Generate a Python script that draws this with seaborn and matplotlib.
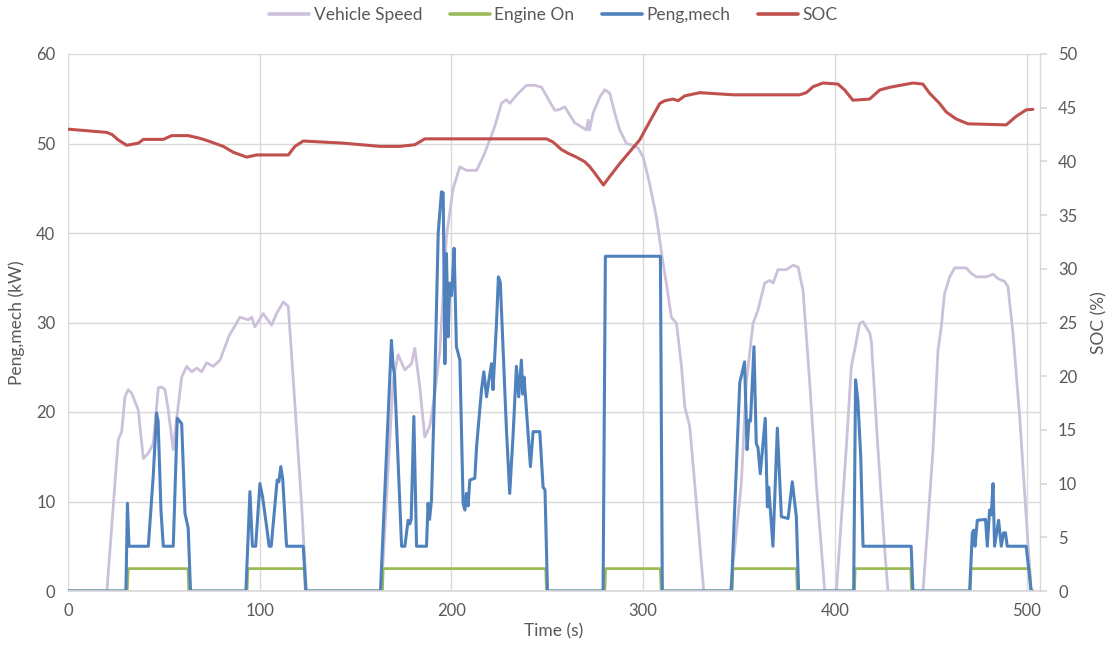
import matplotlib
matplotlib.use("Agg")
import matplotlib.pyplot as plt
import seaborn as sns
import pandas as pd

# ---------------- data ----------------
speed_t = [0, 20.3, 26.2, 28.0, 29.7, 31.4, 33.2, 36.7, 37.5, 39.3, 41.9, 44.5, 47.1, 48.8, 50.6,
           52.3, 54.9, 56.7, 59.3, 61.9, 64.5, 67.1, 69.7, 72.3, 75.8, 79.3, 84.0, 89.7, 94.0, 95.8,
           97.5, 101.8, 106.2, 108.8, 112.3, 114.9, 117.5, 121.8, 124.4, 163.5, 166.0, 169.6, 172.2,
           175.7, 179.2, 180.9, 183.5, 186.1, 188.7, 191.0, 194.0, 197.4, 200.9, 204.4, 207.9, 213.1,
           216.5, 220.0, 222.6, 226.1, 228.7, 230.4, 234.8, 239.1, 243.5, 247.0, 250.4, 253.9, 256.5,
           259.1, 261.7, 264.3, 267.5, 270.4, 271.3, 272.0, 273.9, 277.4, 280.0, 282.6, 285.2, 287.8,
           291.3, 294.7, 297.3, 300.0, 303.4, 306.9, 310.4, 312.1, 314.7, 317.4, 320.0, 321.7, 324.3,
           326.9, 329.5, 331.6, 345.5, 351.2, 353.8, 357.3, 359.9, 363.4, 366.0, 367.8, 370.3, 374.7,
           378.2, 380.8, 383.4, 386.9, 390.3, 394.7, 400.8, 405.9, 408.6, 410.3, 412.9, 414.7, 418.2,
           419.0, 422.5, 426.0, 427.7, 446.0, 451.2, 453.8, 455.5, 457.2, 459.9, 462.5, 465.0, 468.5,
           471.1, 473.8, 479.0, 482.5, 485.1, 488.5, 490.3, 492.9, 496.4, 499.8, 502.4, 503.3]
speed = [0, 0, 16.9, 17.8, 21.7, 22.5, 22.1, 20.2, 18.4, 14.8, 15.4, 16.5, 22.7, 22.8, 22.5,
         20.2, 15.8, 19.3, 23.9, 25.1, 24.5, 24.9, 24.5, 25.5, 25.1, 25.8, 28.5, 30.6, 30.3, 30.6,
         29.5, 31.0, 29.7, 31.0, 32.3, 31.8, 23.6, 9.8, 0, 0, 9.8, 23.6, 26.4,
         24.7, 25.4, 27.1, 22.8, 17.2, 18.4, 21.5, 26.9, 39.6, 45.0, 47.4, 47.0, 47.0,
         48.5, 50.4, 51.9, 54.5, 54.9, 54.5, 55.6, 56.5, 56.5, 56.3, 55.0, 53.7, 53.8,
         54.1, 53.2, 52.3, 51.9, 51.5, 52.6, 51.5, 53.4, 55.2, 56.0, 55.6, 53.4, 51.5,
         50.0, 49.8, 49.5, 48.5, 45.5, 41.8, 36.6, 34.4, 30.6, 29.9, 25.1, 20.6, 18.4,
         12.0, 5.3, 0, 0, 12.0, 23.2, 29.9, 31.4, 34.4, 34.7, 34.4, 35.9, 35.9,
         36.4, 36.2, 33.6, 23.2, 12.0, 0, 0, 15.8, 25.1, 26.9, 29.9, 30.1, 28.8,
         28.0, 15.8, 4.6, 0, 0, 15.8, 26.9, 29.5, 33.2, 35.1, 36.1, 36.1, 36.1,
         35.5, 35.1, 35.1, 35.4, 34.9, 34.6, 34.0, 28.8, 19.5, 8.3, 0, 0]

engine_t = [0, 30.9, 31.4, 62.6, 63.0, 93.4, 93.8, 123.4, 123.8, 164.0, 164.4, 249.2, 249.6,
            280.0, 280.4, 309.0, 309.4, 346.4, 346.8, 380.0, 380.4, 410.2, 410.6, 439.6, 440.0,
            470.6, 471.0, 501.6, 502.0, 503.3]
engine_on = [0, 0, 2.5, 2.5, 0, 0, 2.5, 2.5, 0, 0, 2.5, 2.5, 0,
             0, 2.5, 2.5, 0, 0, 2.5, 2.5, 0, 0, 2.5, 2.5, 0,
             0, 2.5, 2.5, 0, 0]

peng_t = [0, 30.2, 31.0, 31.8, 41.9, 44.5, 46.2, 47.0, 48.5, 49.7, 54.9, 57.0, 59.3, 61.0, 62.7, 63.9,
          92.8, 94.9, 96.2, 97.9, 100.1, 101.5, 103.6, 104.9, 106.0, 109.1, 110.0, 111.0, 112.0, 114.0,
          122.7, 124.1,
          163.0, 168.7, 169.6, 170.3, 174.0, 175.7, 177.4, 178.3, 179.0, 180.4, 181.8, 187.0, 187.8,
          188.6, 189.6, 191.3, 193.1, 194.8, 195.7, 196.6, 197.4, 198.3, 199.1, 200.0, 200.6, 201.4,
          202.6, 204.4, 206.1, 207.0, 207.8, 208.7, 209.6, 212.2, 213.1, 215.7, 216.9, 218.3, 219.5,
          220.9, 221.7, 223.5, 224.5, 225.5, 227.0, 228.7, 230.4, 232.2, 233.9, 235.1, 236.5, 237.2,
          237.9, 239.1, 241.2, 242.6, 246.1, 247.8, 248.8, 250.1,
          279.1, 280.3, 309.0, 310.0,
          346.0, 350.4, 351.2, 352.9, 354.2, 355.2, 356.0, 357.8, 359.0, 359.9, 361.1, 363.7, 364.8,
          365.5, 367.7, 370.0, 372.1, 375.6, 377.8, 379.9, 381.1,
          409.8, 410.8, 412.0, 413.5, 414.7, 439.8, 440.7,
          470.3, 471.7, 472.4, 473.1, 474.3, 478.6, 479.5, 480.7, 481.6, 482.5, 483.3, 485.4, 486.8,
          488.0, 489.0, 489.9, 499.8, 502.4, 503.3]
peng = [0, 0, 9.8, 5.0, 5.0, 13.0, 19.9, 19.0, 9.0, 5.0, 5.0, 19.3, 18.7, 8.7, 7.0, 0,
        0, 11.1, 5.0, 5.0, 12.0, 10.5, 7.2, 5.0, 5.0, 12.4, 12.2, 13.9, 12.5, 5.0,
        5.0, 0,
        0, 28.0, 25.1, 24.2, 5.0, 5.0, 7.9, 7.5, 8.0, 19.5, 5.0, 5.0, 9.8,
        8.0, 10.2, 23.2, 40.0, 44.6, 44.5, 25.4, 37.7, 28.4, 34.4, 33.0, 35.0, 38.3,
        27.3, 25.8, 9.8, 9.05, 10.9, 9.5, 12.4, 12.6, 16.1, 22.5, 24.5, 21.7, 23.5,
        25.4, 22.5, 29.9, 35.1, 34.5, 26.9, 18.0, 10.9, 17.6, 25.1, 21.7, 25.8, 22.0,
        23.9, 20.2, 13.9, 17.8, 17.8, 11.6, 11.3, 0,
        0, 37.4, 37.4, 0,
        0, 23.3, 24.0, 25.6, 15.8, 19.1, 19.0, 27.3, 16.5, 16.0, 13.1, 19.3, 9.4,
        11.6, 5.0, 18.2, 8.3, 8.1, 12.2, 8.3, 0,
        0, 23.6, 21.3, 15.0, 5.0, 5.0, 0,
        0, 6.5, 6.8, 5.0, 7.9, 8.0, 5.0, 9.05, 8.5, 12.0, 5.0, 7.9, 5.0,
        6.5, 6.5, 5.0, 5.0, 0, 0]

soc_t = [0.2, 20.2, 23.0, 26.2, 30.6, 36.7, 39.3, 49.7, 54.1, 62.7, 68.8, 73.2, 81.0, 86.2, 93.2,
         98.4, 114.9, 118.4, 122.7, 143.5, 162.7, 173.1, 180.9, 186.1, 249.6, 253.0, 257.4, 260.9,
         265.2, 269.5, 272.2, 274.8, 279.3, 282.6, 287.8, 293.0, 298.2, 303.4, 308.7, 311.3, 315.6,
         318.2, 321.7, 329.5, 346.9, 381.6, 385.1, 388.6, 393.8, 401.6, 405.1, 409.4, 418.1, 423.4,
         428.6, 440.7, 445.9, 449.4, 454.6, 458.1, 463.3, 469.4, 489.4, 494.6, 499.8, 503.3]
soc = [43.0, 42.7, 42.5, 42.0, 41.5, 41.7, 42.05, 42.05, 42.4, 42.4, 42.15, 41.9, 41.4, 40.85, 40.4,
       40.6, 40.6, 41.4, 41.9, 41.7, 41.4, 41.4, 41.55, 42.1, 42.1, 41.8, 41.1, 40.75,
       40.4, 39.97, 39.5, 38.9, 37.8, 38.6, 39.8, 40.9, 42.0, 43.7, 45.4, 45.65, 45.8,
       45.65, 46.1, 46.4, 46.2, 46.2, 46.4, 46.95, 47.3, 47.2, 46.65, 45.7, 45.8, 46.65,
       46.9, 47.3, 47.2, 46.35, 45.4, 44.6, 43.95, 43.5, 43.4, 44.2, 44.8, 44.85]

x_ticks = [0, 100, 200, 300, 400, 500]
left_ticks = [0, 10, 20, 30, 40, 50, 60]
right_ticks = [0, 5, 10, 15, 20, 25, 30, 35, 40, 45, 50]

assert len(speed_t) == len(speed)
assert len(engine_t) == len(engine_on)
assert len(peng_t) == len(peng)
assert len(soc_t) == len(soc)

# ---------------- style ----------------
sns.set_theme(style="white")
plt.rcParams['font.family'] = ['Lato', 'DejaVu Sans']
plt.rcParams['lines.solid_joinstyle'] = 'round'
plt.rcParams['lines.solid_capstyle'] = 'round'
TXT = "#595959"
GRID = "#D9D9D9"

fig = plt.figure(figsize=(11.07, 6.53), dpi=100)
ax = fig.add_axes([68 / 1107, 1 - 591 / 653, (1040 - 68) / 1107, (591 - 54) / 653])
ax2 = ax.twinx()

df_speed = pd.DataFrame({"t": speed_t, "v": speed})
df_eng = pd.DataFrame({"t": engine_t, "v": engine_on})
df_peng = pd.DataFrame({"t": peng_t, "v": peng})
df_soc = pd.DataFrame({"t": soc_t, "v": soc})

sns.lineplot(data=df_speed, x="t", y="v", ax=ax, color="#CCC0DA", lw=2.0,
             estimator=None, sort=False, label="Vehicle Speed")
sns.lineplot(data=df_eng, x="t", y="v", ax=ax, color="#9BBB59", lw=2.0,
             estimator=None, sort=False, label="Engine On")
sns.lineplot(data=df_peng, x="t", y="v", ax=ax, color="#4F81BD", lw=2.2,
             estimator=None, sort=False, label="Peng,mech")
sns.lineplot(data=df_soc, x="t", y="v", ax=ax2, color="#C0504D", lw=2.2,
             estimator=None, sort=False, label="SOC")

ax.set_xlim(0, 507)
ax.set_ylim(0, 60)
ax2.set_ylim(0, 50)
ax.set_xticks(x_ticks)
ax.set_yticks(left_ticks)
ax2.set_yticks(right_ticks)

ax.grid(True, color=GRID, lw=1)
ax2.grid(False)
ax.set_axisbelow(True)

for s in ["top", "left", "right"]:
    ax.spines[s].set_visible(False)
for s in ["top", "left", "bottom"]:
    ax2.spines[s].set_visible(False)
ax.spines["bottom"].set_color(GRID)
ax2.spines["right"].set_color(GRID)
ax2.spines["right"].set_linewidth(1)

ax.tick_params(axis="both", length=0, labelsize=12, labelcolor=TXT, pad=9)
ax2.tick_params(axis="y", length=5, color=GRID, labelsize=12, labelcolor=TXT, pad=8, direction="out")

ax.set_xlabel("Time (s)", fontsize=12.5, color=TXT, labelpad=3)
ax.set_ylabel("Peng,mech (kW)", fontsize=12.5, color=TXT, labelpad=8)
ax2.set_ylabel("SOC (%)", fontsize=12.5, color=TXT, labelpad=10, rotation=90)

h1, l1 = ax.get_legend_handles_labels()
h2, l2 = ax2.get_legend_handles_labels()
ax.get_legend().remove()
ax2.get_legend().remove()
leg = fig.legend(h1 + h2, l1 + l2, loc="center", bbox_to_anchor=(0.5, 1 - 15 / 653), ncol=4,
                 frameon=False, fontsize=12.5, handlelength=2.3, handletextpad=0.25,
                 columnspacing=1.6)
for t in leg.get_texts():
    t.set_color(TXT)
for line in leg.get_lines():
    line.set_linewidth(2.6)

fig.savefig("out.png", dpi=100)
